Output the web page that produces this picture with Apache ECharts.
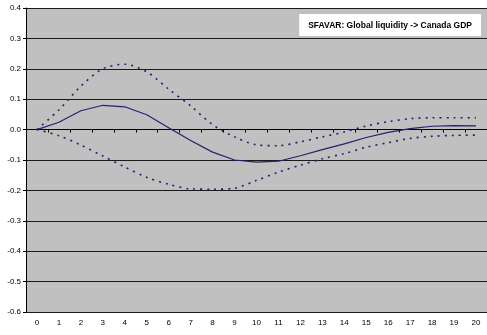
<!DOCTYPE html>
<html>
<head>
<meta charset="utf-8">
<script src="https://cdn.jsdelivr.net/npm/echarts@6/dist/echarts.min.js"></script>
<style>
  html, body { margin: 0; padding: 0; background: #fff; }
  #chart { width: 487px; height: 335px; }
</style>
</head>
<body>
<div id="chart"></div>
<script>
// horizon 0..20
var periods = ['0','1','2','3','4','5','6','7','8','9','10','11','12','13','14','15','16','17','18','19','20']

// impulse response and bands
var response = [0, 0.024, 0.062, 0.080, 0.075, 0.049, 0.006, -0.036, -0.074, -0.100, -0.107, -0.104, -0.086, -0.066, -0.047, -0.026, -0.009, 0.003, 0.011, 0.013, 0.012]
var upperBand = [0, 0.065, 0.143, 0.200, 0.215, 0.190, 0.133, 0.078, 0.016, -0.024, -0.050, -0.053, -0.040, -0.024, -0.008, 0.012, 0.026, 0.036, 0.039, 0.039, 0.039]
var lowerBand = [0, -0.020, -0.051, -0.087, -0.123, -0.157, -0.180, -0.195, -0.196, -0.193, -0.167, -0.140, -0.117, -0.096, -0.079, -0.058, -0.043, -0.029, -0.022, -0.019, -0.018]

var chartTitle = 'SFAVAR: Global liquidity -> Canada GDP'

var lineColor = '#22226e'

var option = {
    animation: false,
    title: {
        text: chartTitle,
        right: 6,
        top: 14,
        backgroundColor: '#ffffff',
        padding: [7, 9, 6, 9],
        textStyle: {
            fontFamily: 'Liberation Sans',
            fontSize: 8.5,
            fontWeight: 'bold',
            color: '#000'
        }
    },
    grid: {
        left: 26,
        right: -2,
        top: 8,
        bottom: 23,
        show: true,
        backgroundColor: '#c0c0c0',
        borderWidth: 0
    },
    xAxis: {
        type: 'category',
        data: periods,
        boundaryGap: true,
        axisLine: { lineStyle: { color: '#000', width: 1 } },
        axisTick: { show: true, length: 3, lineStyle: { color: '#000' } },
        axisLabel: {
            fontFamily: 'Liberation Sans',
            fontSize: 8,
            color: '#000',
            margin: 7
        },
        splitLine: { show: false }
    },
    yAxis: {
        type: 'value',
        min: -0.6,
        max: 0.4,
        interval: 0.1,
        axisLine: { show: true, lineStyle: { color: '#000', width: 1 } },
        axisTick: { show: true, length: 3, lineStyle: { color: '#000' } },
        axisLabel: {
            fontFamily: 'Liberation Sans',
            fontSize: 8,
            color: '#000',
            margin: 5,
            formatter: function (v) { return v.toFixed(1) }
        },
        splitLine: { show: true, lineStyle: { color: '#1a1a1a', width: 1 } }
    },
    series: [
        {
            type: 'line',
            data: response,
            symbol: 'none',
            lineStyle: { color: lineColor, width: 1.2 }
        },
        {
            type: 'line',
            data: upperBand,
            symbol: 'none',
            smooth: 0.3,
            lineStyle: { color: lineColor, width: 1.6, type: [2, 5] }
        },
        {
            type: 'line',
            data: lowerBand,
            symbol: 'none',
            smooth: 0.3,
            lineStyle: { color: lineColor, width: 1.6, type: [2, 5] }
        }
    ]
}

var myChart = echarts.init(document.getElementById('chart'))
myChart.setOption(option)
</script>
</body>
</html>
